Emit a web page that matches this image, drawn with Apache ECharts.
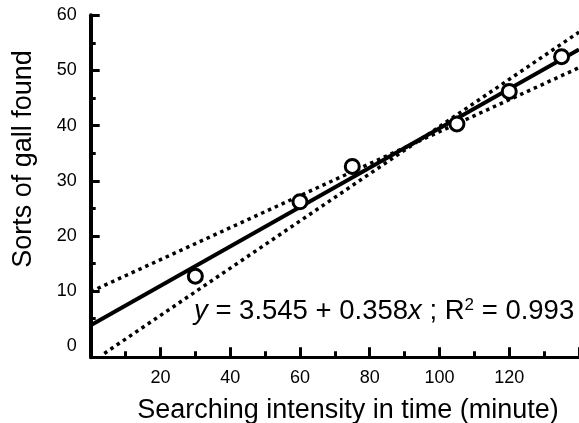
<!DOCTYPE html>
<html>
<head>
<meta charset="utf-8">
<script src="https://cdn.jsdelivr.net/npm/echarts@6/dist/echarts.min.js"></script>
<style>
html,body{margin:0;padding:0;background:#fff;}
#chart{width:579px;height:423px;}
</style>
</head>
<body>
<div id="chart"></div>
<script>
// Observed points (searching time in minutes, sorts of gall found)
const xVals = [30, 60, 75, 105, 120, 135];
const yVals = [12.7, 26.2, 32.6, 40.3, 46.2, 52.5];
// Regression line endpoints
const fitX = [0, 140];
const fitY = [3.8, 53.8];
// Dotted lines (endpoints)
const bandAX = [0, 140];
const bandAY = [9.9, 50.5];
const bandBX = [3.9, 140];
const bandBY = [-1.3, 56.95];
// Tick values
const xTicks = [20, 40, 60, 80, 100, 120];
const yLabelVals = [0, 10, 20, 30, 40, 50, 60];
const yMajorTicks = [10, 20, 30, 40, 50, 60];
const yMinorTicks = [5, 15, 25, 35, 45, 55];

const xTitle = 'Searching intensity in time (minute)';
const yTitle = 'Sorts of gall found';
const eqText = '{i|y} = 3.545 + 0.358{i|x} ; R{s|2} = 0.993';

const FONT = '"Liberation Sans", Arial, Helvetica, sans-serif';

const zip = (a, b) => a.map((v, i) => [v, b[i]]);

const chart = echarts.init(document.getElementById('chart'), null, {renderer: 'canvas'});
chart.setOption({
  animation: false,
  backgroundColor: '#fff',
  grid: {left: 90.7, top: 15.3, right: -4, bottom: 65.7, containLabel: false},
  xAxis: {
    type: 'value', min: 0, max: 140, interval: 20,
    axisLine: {show: true, onZero: false, lineStyle: {color: '#000', width: 3}},
    axisTick: {show: true, inside: true, length: 10, lineStyle: {color: '#000', width: 3}},
    minorTick: {show: true, splitNumber: 2, length: 6, lineStyle: {color: '#000', width: 3}},
    axisLabel: {showMinLabel: false, showMaxLabel: false, margin: 12, fontSize: 18, color: '#000', fontFamily: FONT},
    splitLine: {show: false}
  },
  yAxis: [{
    type: 'value', min: -2, max: 60, position: 'left',
    axisLine: {show: true, onZero: false, lineStyle: {color: '#000', width: 4}},
    axisTick: {show: true, inside: true, length: 9, customValues: yMajorTicks, lineStyle: {color: '#000', width: 3}},
    axisLabel: {customValues: yLabelVals, margin: 14, fontSize: 18, color: '#000', fontFamily: FONT},
    splitLine: {show: false}
  }, {
    type: 'value', min: -2, max: 60, position: 'left',
    axisLine: {show: false, onZero: false},
    axisTick: {show: true, inside: true, length: 5, customValues: yMinorTicks, lineStyle: {color: '#000', width: 3}},
    axisLabel: {show: false},
    splitLine: {show: false}
  }],
  series: [
    {type: 'line', data: zip(bandAX, bandAY), showSymbol: false, silent: true, z: 2,
     lineStyle: {color: '#000', width: 3.5, type: [3.5, 4], cap: 'butt'}},
    {type: 'line', data: zip(bandBX, bandBY), showSymbol: false, silent: true, z: 2,
     lineStyle: {color: '#000', width: 3.5, type: [3.5, 4], cap: 'butt'}},
    {type: 'line', data: zip(fitX, fitY), showSymbol: false, silent: true, z: 3,
     lineStyle: {color: '#000', width: 4}},
    {type: 'scatter', data: zip(xVals, yVals), symbol: 'circle', symbolSize: 14, z: 5,
     itemStyle: {color: '#fff', borderColor: '#000', borderWidth: 3, opacity: 1}}
  ],
  graphic: [
    {type: 'text', x: 348, y: 410.5, z: 10,
     style: {text: xTitle, font: '27px ' + FONT, fill: '#000', textAlign: 'center', textVerticalAlign: 'middle'}},
    {type: 'text', x: 24, y: 159, rotation: Math.PI / 2, z: 10,
     style: {text: yTitle, font: '27px ' + FONT, fill: '#000', textAlign: 'center', textVerticalAlign: 'middle'}},
    {type: 'text', x: 194, y: 311, z: 10,
     style: {text: eqText, fontSize: 27.5, fontFamily: FONT, fill: '#000', textAlign: 'left', textVerticalAlign: 'middle',
       rich: {
         i: {fontSize: 27.5, fontStyle: 'italic', fontFamily: FONT, fill: '#000'},
         s: {fontSize: 17, fontFamily: FONT, fill: '#000', verticalAlign: 'top', lineHeight: 17}
       }}}
  ]
});
</script>
</body>
</html>
